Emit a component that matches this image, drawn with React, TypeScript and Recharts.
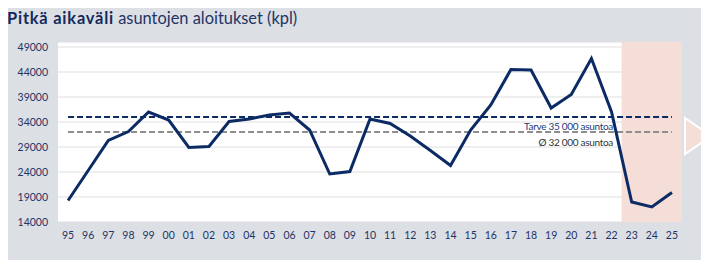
import React from 'react';
import {
  ComposedChart,
  Line,
  XAxis,
  YAxis,
  CartesianGrid,
  ReferenceArea,
  ReferenceLine,
} from 'recharts';

// Vuodet 1995–2025
const years = [
  '95', '96', '97', '98', '99', '00', '01', '02', '03', '04', '05',
  '06', '07', '08', '09', '10', '11', '12', '13', '14', '15', '16',
  '17', '18', '19', '20', '21', '22', '23', '24', '25',
];

// Asuntojen aloitukset (kpl)
const starts = [
  18300, 24300, 30300, 32100, 36000, 34400, 28900, 29100, 34100, 34600, 35400,
  35800, 32400, 23600, 24100, 34600, 33700, 31200, 28300, 25300, 32400, 37400,
  44500, 44400, 36800, 39500, 46700, 36000, 18000, 17000, 19900,
];

const needLevel = 35000;
const avgLevel = 32000;
const yTicks = [14000, 19000, 24000, 29000, 34000, 39000, 44000, 49000];

const NAVY = '#0c2a64';
const TEXT = '#1f3466';

const data = years.map((y, i) => ({
  year: y,
  starts: starts[i],
  need: needLevel,
  avg: avgLevel,
}));

const Note = ({ viewBox, text, color, dy }: any) => {
  if (!viewBox) return null;
  return (
    <text
      x={viewBox.x + viewBox.width - 69}
      y={viewBox.y + dy}
      textAnchor="end"
      dominantBaseline="central"
      fill={color}
      fontSize={10}
      letterSpacing={-0.3}
      fontFamily="Lato, sans-serif"
    >
      {text}
    </text>
  );
};

export default function App() {
  return (
    <div style={{ position: 'relative', width: 709, height: 268, margin: -8, fontFamily: 'Lato, sans-serif' }}>
      {/* Panel */}
      <div style={{ position: 'absolute', left: 2, top: 6, width: 700, height: 254, background: '#dcdfe4' }} />
      <div style={{ position: 'absolute', left: 7, top: 8, fontSize: 16.4, color: TEXT, whiteSpace: 'nowrap' }}>
        <span style={{ fontWeight: 700, color: '#13295b', letterSpacing: 0.8 }}>Pitkä aikaväli</span> asuntojen aloitukset (kpl)
      </div>

      <div style={{ position: 'absolute', left: 0, top: 0 }}>
        <ComposedChart
          width={709}
          height={268}
          data={data}
          margin={{ top: 42, right: 27, left: 8, bottom: 16 }}
        >
          <CartesianGrid vertical={false} fill="#ffffff" stroke="#e0e0e0" strokeWidth={1.2} />
          <XAxis
            dataKey="year"
            scale="band"
            height={30}
            axisLine={false}
            tickLine={false}
            tickMargin={3.5}
            interval={0}
            tick={{ fill: TEXT, fontSize: 10.5, fontFamily: 'Lato, sans-serif' }}
          />
          <YAxis
            width={50}
            domain={[14000, 50000]}
            ticks={yTicks}
            axisLine={false}
            tickLine={false}
            tickMargin={4}
            tick={{ fill: TEXT, fontSize: 10.5, fontFamily: 'Lato, sans-serif' }}
          />
          <ReferenceArea x1="23" x2="25" fill="#f5ddd8" fillOpacity={1} stroke="none" />
          <ReferenceLine
            y={needLevel}
            stroke="none"
            label={<Note text="Tarve 35 000 asuntoa" color="#1f3a78" dy={9} />}
          />
          <ReferenceLine
            y={avgLevel}
            stroke="none"
            label={<Note text="Ø 32 000 asuntoa" color="#333333" dy={10} />}
          />
          <Line
            dataKey="need"
            stroke={NAVY}
            strokeWidth={2}
            strokeDasharray="6 3"
            dot={false}
            isAnimationActive={false}
          />
          <Line
            dataKey="avg"
            stroke="#8e8e8e"
            strokeWidth={2}
            strokeDasharray="6 3"
            dot={false}
            isAnimationActive={false}
          />
          <Line
            dataKey="starts"
            stroke={NAVY}
            strokeWidth={3}
            strokeLinejoin="miter"
            dot={false}
            isAnimationActive={false}
          />
        </ComposedChart>
      </div>

      {/* Nuoli */}
      <svg style={{ position: 'absolute', left: 0, top: 0 }} width={709} height={268}>
        <polygon points="685,118 711,136 685,154" fill="#f5ddd8" stroke="#ffffff" strokeWidth={2} />
      </svg>
    </div>
  );
}
